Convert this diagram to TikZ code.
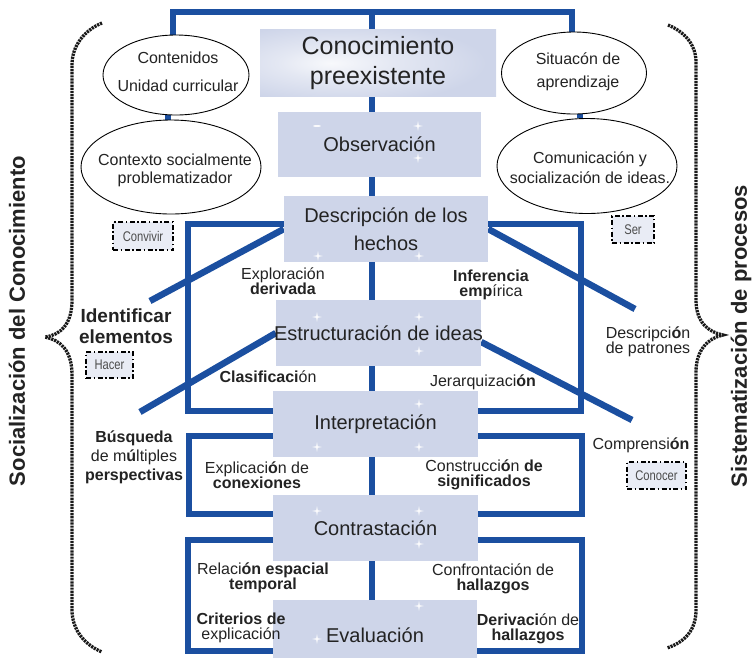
\documentclass[tikz,border=0pt]{standalone}
\usepackage{fontspec}
\setmainfont{Liberation Sans}
\usetikzlibrary{shapes.geometric,calc}
\definecolor{dblue}{RGB}{27,79,160}
\definecolor{boxfill}{RGB}{206,213,233}
\definecolor{txt}{RGB}{35,35,35}
\pgfdeclarelayer{bg}
\pgfsetlayers{bg,main}
\pgfdeclareradialshading{glow}{\pgfpoint{-10bp}{0bp}}{color(0bp)=(white!85!boxfill); color(12bp)=(white!45!boxfill); color(30bp)=(boxfill); color(100bp)=(boxfill)}
\begin{document}
\begin{tikzpicture}[x=1pt,y=-1pt,
  stage/.style={fill=boxfill, draw=none, inner sep=0pt, align=center, text=txt, font=\fontsize{20}{28}\selectfont},
  bl/.style={draw=dblue, line width=6.5pt},
  oval/.style={ellipse, draw=black, line width=0.9pt, fill=white, inner sep=0pt},
  otext/.style={align=center, text=txt, inner sep=0pt},
  lbl/.style={align=center, text=txt, font=\fontsize{16}{15.5}\selectfont, inner sep=0pt},
  tag/.style={draw=black, line width=2.2pt, dash pattern=on 5pt off 2.5pt on 1.5pt off 2.5pt, fill=boxfill!45!white, inner sep=0pt, text=black!70, font=\fontsize{14}{14}\selectfont},
  brace/.style={draw=black!90, line width=3.3pt, dash pattern=on 2.2pt off 0.9pt},
  side/.style={font=\bfseries\fontsize{22}{24}\selectfont, text=txt, rotate=90, inner sep=0pt},
  spark/.style={fill=white, opacity=0.9}
]
\useasboundingbox (0,0) rectangle (753,657);

% stage boxes
\node[stage, shading=glow, minimum width=236pt, minimum height=67pt, font=\fontsize{25}{30}\selectfont] (pre) at (378,63) {Conocimiento\\preexistente};
\node[stage, minimum width=203pt, minimum height=65pt] (obs) at (379.5,144.5) {};
\node[stage, minimum width=204pt, minimum height=66pt] (des) at (386,229) {};
\node[stage, minimum width=205pt, minimum height=66pt] (est) at (378.5,333) {};
\node[stage, minimum width=205pt, minimum height=66pt] (int) at (375.5,424) {};
\node[stage, minimum width=205pt, minimum height=66pt] (con) at (375.5,528) {};
\node[stage, minimum width=204pt, minimum height=70pt] (eva) at (375,635) {};

% sparkles on the boxes
\foreach \p in {(418,126),(418,158),(318,256),(419,256),(317,317),(419,317),(419,351),(317,447),(419,447),(419,404),(317,511),(419,511),(419,544),(419,606),(317,639)}{
  \fill[spark] \p +(0,-5) -- +(0.8,-0.8) -- +(5,0) -- +(0.8,0.8) -- +(0,5) -- +(-0.8,0.8) -- +(-5,0) -- +(-0.8,-0.8) -- cycle;
}
\fill[spark] (317,126) ellipse (4pt and 1pt);

% stage texts
\node[stage, fill=none] (obst) at (obs) {Observación};
\node[stage, fill=none] (dest) at (des) {Descripción de los\\hechos};
\node[stage, fill=none] (estt) at (est) {Estructuración de ideas};
\node[stage, fill=none] (intt) at (int) {Interpretación};
\node[stage, fill=none] (cont) at (con) {Contrastación};
\node[stage, fill=none] (evat) at (eva) {Evaluación};

% ellipses
\node[oval, minimum width=146pt, minimum height=80pt] (e1) at (176,75) {};
\node[oval, minimum width=180pt, minimum height=94pt] (e2) at (171,167) {};
\node[oval, minimum width=145pt, minimum height=82pt] (e3) at (574,73) {};
\node[oval, minimum width=180pt, minimum height=95pt] (e4) at (587,166) {};
\node[otext, font=\fontsize{16}{28}\selectfont] (e1t) at (178,72) {Contenidos\\Unidad curricular};
\node[otext, font=\fontsize{16}{18}\selectfont] (e2t) at (175,170) {Contexto socialmente\\problematizador};
\node[otext, font=\fontsize{16}{23}\selectfont] (e3t) at (578,72) {Situacón de\\aprendizaje};
\node[otext, font=\fontsize{16}{20}\selectfont] (e4t) at (590,168) {Comunicación y\\socialización de ideas.};

% tags
\node[tag, minimum width=60pt, minimum height=28pt] (t1) at (143,236) {\scalebox{0.8}[1]{Convivir}};
\node[tag, minimum width=47pt, minimum height=26pt] (t2) at (109.5,365) {\scalebox{0.8}[1]{Hacer}};
\node[tag, minimum width=42pt, minimum height=27pt] (t3) at (633,229.5) {\scalebox{0.8}[1]{Ser}};
\node[tag, minimum width=59pt, minimum height=27pt] (t4) at (656.5,475.5) {\scalebox{0.8}[1]{Conocer}};

% labels
\node[lbl] (l1) at (283,281) {Exploración\\\textbf{derivada}};
\node[lbl] (l2) at (491,285) {\textbf{Inferencia}\\\textbf{emp}írica};
\node[lbl] (l3) at (268,377) {\textbf{Clasificaci}ón};
\node[lbl] (l4) at (483,382) {Jerarquizaci\textbf{ón}};
\node[lbl] (l5) at (648,342) {Descripci\textbf{ó}n\\de patrones};
\node[lbl, font=\bfseries\fontsize{19}{21}\selectfont] (l6) at (126,326) {Identificar\\elementos};
\node[lbl, font=\fontsize{16}{19}\selectfont] (l7) at (134,457) {\textbf{Búsqueda}\\de m\textbf{ú}ltiples\\\textbf{perspectivas}};
\node[lbl] (l8) at (257,475) {Explicaci\textbf{ó}n de\\\textbf{conexiones}};
\node[lbl] (l9) at (484,475) {Construcci\textbf{ó}n \textbf{de}\\\textbf{significados}};
\node[lbl] (l10) at (641,445) {Comprensi\textbf{ón}};
\node[lbl] (l11) at (263,578) {Relaci\textbf{ón espacial}\\\textbf{temporal}};
\node[lbl] (l12) at (493,579) {Confrontación de\\\textbf{hallazgos}};
\node[lbl] (l13) at (241,628) {\textbf{Criterios de}\\explicación};
\node[lbl] (l14) at (528,629) {\textbf{Derivaci}ón de\\\textbf{hallazgos}};

% side texts
\node[side] (soc) at (17,321) {Socialización del Conocimiento};
\node[side] (sis) at (741,336) {Sistematización de procesos};

% coordinates
\coordinate (tl) at (173,12);
\coordinate (tm) at (372,12);
\coordinate (tr) at (572,12);
\coordinate (d1) at (150,301);
\coordinate (d2) at (140,412);
\coordinate (d3) at (635,309);
\coordinate (d4) at (632,420);

\begin{pgfonlayer}{bg}
  % top bar
  \draw[bl] (e1.north -| tl) -- (tl) -- (tr) -- (e3.north -| tr);
  \draw[bl] (tm) -- (pre.north -| tm);
  \draw[bl] (e1.south -| 168,0) -- (e2.north -| 168,0);
  \draw[bl] (e3.south -| 580,0) -- (e4.north -| 580,0);
  % spine
  \draw[bl] (pre.south -| tm) -- (eva.north -| tm);
  % frames
  \draw[bl] (188,224) rectangle (581,411);
  \draw[bl] (189,436) rectangle (582,514);
  \draw[bl] (188,540) rectangle (582,651);
  % diagonals
  \draw[bl] (des.west) -- (d1);
  \draw[bl] (est.west) -- (d2);
  \draw[bl] (des.east) -- (d3);
  \draw[bl] ($(est.east)+(0,9)$) -- (d4);
\end{pgfonlayer}

% braces
\draw[brace] (102,23) .. controls (85,30) and (72,45) .. (72,65) -- (72,300) .. controls (72,325) and (60,335) .. (45,337) .. controls (60,340) and (72,350) .. (72,375) -- (72,610) .. controls (72,630) and (85,645) .. (102,652);
\draw[brace] (668,25) .. controls (685,32) and (696,45) .. (696,62) -- (696,300) .. controls (696,322) and (708,332) .. (723,335) .. controls (708,338) and (696,350) .. (696,372) -- (696,610) .. controls (696,630) and (685,642) .. (667,648);
\end{tikzpicture}
\end{document}
